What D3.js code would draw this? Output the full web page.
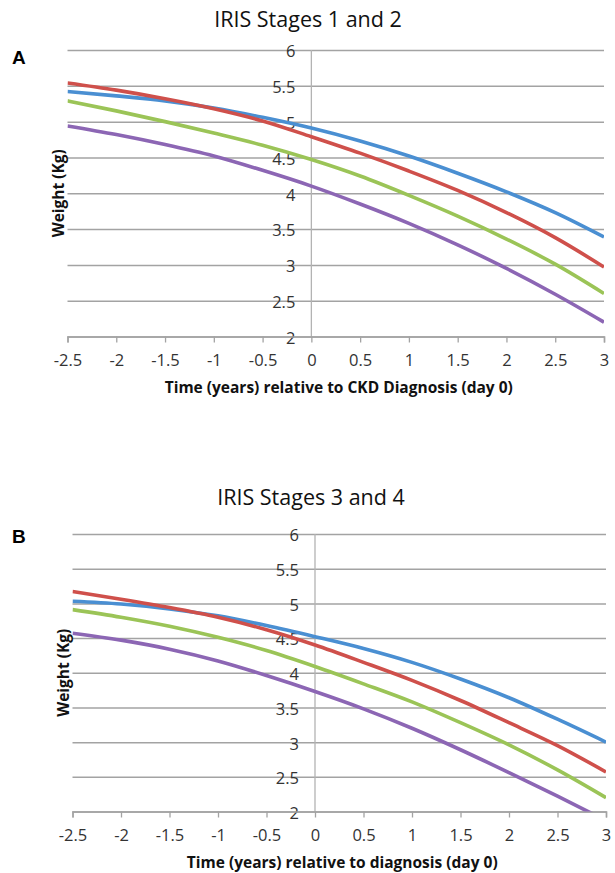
<!DOCTYPE html>
<html>
<head>
<meta charset="utf-8">
<script src="https://cdn.jsdelivr.net/npm/d3@7"></script>
<style>
  html, body { margin: 0; padding: 0; background: #fff; }
  svg { display: block; }
</style>
</head>
<body>
<svg id="chart" width="615" height="873"></svg>
<script>
// ---- data ----
const timeYears = [-2.5, -2, -1.5, -1, -0.5, 0, 0.5, 1, 1.5, 2, 2.5, 3];
const xTickValues = [-2.5, -2, -1.5, -1, -0.5, 0, 0.5, 1, 1.5, 2, 2.5, 3];
const xTickLabels = ["-2.5", "-2", "-1.5", "-1", "-0.5", "0", "0.5", "1", "1.5", "2", "2.5", "3"];
const yTickValues = [2, 2.5, 3, 3.5, 4, 4.5, 5, 5.5, 6];
const yTickLabels = ["2", "2.5", "3", "3.5", "4", "4.5", "5", "5.5", "6"];
const seriesColors = ["#4A8FD2", "#CF504B", "#9BC457", "#8C66B4"];

// Panel A: IRIS Stages 1 and 2
const stages12Blue   = [5.42, 5.36, 5.29, 5.19, 5.06, 4.91, 4.73, 4.52, 4.28, 4.02, 3.73, 3.39];
const stages12Red    = [5.54, 5.44, 5.32, 5.18, 5.01, 4.79, 4.56, 4.31, 4.04, 3.73, 3.38, 2.97];
const stages12Green  = [5.29, 5.15, 5.00, 4.84, 4.67, 4.47, 4.24, 3.97, 3.68, 3.36, 3.01, 2.60];
const stages12Purple = [4.94, 4.82, 4.68, 4.52, 4.32, 4.10, 3.85, 3.58, 3.28, 2.95, 2.59, 2.20];

// Panel B: IRIS Stages 3 and 4
const stages34Blue   = [5.03, 4.99, 4.92, 4.82, 4.68, 4.52, 4.35, 4.15, 3.91, 3.64, 3.33, 3.00];
const stages34Red    = [5.17, 5.06, 4.94, 4.80, 4.62, 4.40, 4.15, 3.89, 3.60, 3.28, 2.95, 2.57];
const stages34Green  = [4.91, 4.80, 4.67, 4.51, 4.32, 4.09, 3.84, 3.58, 3.28, 2.96, 2.60, 2.20];
const stages34Purple = [4.57, 4.47, 4.34, 4.17, 3.96, 3.73, 3.48, 3.20, 2.89, 2.56, 2.22, 1.87];

const titleA = "IRIS Stages 1 and 2";
const titleB = "IRIS Stages 3 and 4";
const xTitleA = "Time (years) relative to CKD Diagnosis (day 0)";
const xTitleB = "Time (years) relative to diagnosis (day 0)";
const yTitle = "Weight (Kg)";

// ---- drawing ----
const svg = d3.select("#chart");
const gridColor = "#a3a3a3";
const textColor = "#333333";
const numFont = "'Open Sans', sans-serif";

function drawPanel(cfg, idx) {
  const x = d3.scaleLinear().domain([-2.5, 3]).range([cfg.left, cfg.right]);
  const y = d3.scaleLinear().domain([2, 6]).range([cfg.bottom, cfg.top]);
  const g = svg.append("g");

  // title
  g.append("text")
    .attr("x", cfg.titleX).attr("y", cfg.titleY)
    .attr("text-anchor", "middle")
    .style("font-family", numFont).style("font-size", "21.5px")
    .style("fill", "#111")
    .text(cfg.title);

  // panel letter
  g.append("text")
    .attr("x", 12).attr("y", cfg.letterY)
    .style("font-family", "'Liberation Sans', Arial, sans-serif")
    .style("font-weight", "bold").style("font-size", "19px")
    .style("fill", "#000")
    .text(cfg.letter);

  // horizontal gridlines
  const yGrid = d3.axisLeft(y).tickValues(yTickValues)
    .tickSize(-(cfg.right - cfg.left)).tickFormat("");
  const gg = g.append("g").attr("transform", `translate(${cfg.left},0)`).call(yGrid);
  gg.select(".domain").remove();
  gg.selectAll(".tick line").attr("stroke", gridColor).attr("stroke-width", 1.5);

  // vertical axis line at x=0
  g.append("line")
    .attr("x1", x(0)).attr("x2", x(0))
    .attr("y1", y(6)).attr("y2", y(2))
    .attr("stroke", "#b3b3b3").attr("stroke-width", 1.3);

  // y tick labels
  const yAx = d3.axisLeft(y).tickValues(yTickValues).tickSize(0).tickPadding(16)
    .tickFormat((d, i) => yTickLabels[i]);
  const ya = g.append("g").attr("transform", `translate(${x(0)},0)`).call(yAx);
  ya.select(".domain").remove();
  ya.selectAll(".tick text")
    .attr("dy", "0.75em").attr("y", -5.5)
    .style("font-family", numFont).style("font-size", "16.5px").style("fill", textColor);

  // x axis with ticks
  const xAx = d3.axisBottom(x).tickValues(xTickValues).tickSize(6).tickPadding(12)
    .tickFormat((d, i) => xTickLabels[i]);
  const xa = g.append("g").attr("transform", `translate(0,${y(2)})`).call(xAx);
  xa.select(".domain").attr("stroke", gridColor).attr("stroke-width", 1.5);
  xa.selectAll(".tick line").attr("stroke", gridColor).attr("stroke-width", 1.3);
  xa.selectAll(".tick text")
    .style("font-family", numFont).style("font-size", "16.5px").style("fill", textColor);

  // clip
  const clipId = "clip" + idx;
  svg.append("clipPath").attr("id", clipId).append("rect")
    .attr("x", cfg.left).attr("y", cfg.top - 5)
    .attr("width", cfg.right - cfg.left).attr("height", cfg.bottom - cfg.top + 5);

  const line = d3.line()
    .x((d, i) => x(timeYears[i]))
    .y(d => y(d))
    .curve(d3.curveMonotoneX);

  const lg = g.append("g").attr("clip-path", `url(#${clipId})`);
  cfg.series.forEach((s, i) => {
    lg.append("path")
      .datum(s)
      .attr("d", line)
      .attr("fill", "none")
      .attr("stroke", seriesColors[i])
      .attr("stroke-width", 3.6)
      .attr("stroke-linecap", "butt");
  });

  // x title
  g.append("text")
    .attr("x", (cfg.left + cfg.right) / 2 + 3).attr("y", y(2) + 56)
    .attr("text-anchor", "middle")
    .style("font-family", numFont).style("font-weight", "bold").style("font-size", "15.5px")
    .style("fill", "#111")
    .text(cfg.xTitle);

  // y title
  const cy = (cfg.top + cfg.bottom) / 2;
  g.append("text")
    .attr("transform", `translate(${cfg.left - 4},${cy}) rotate(-90)`)
    .attr("text-anchor", "middle")
    .style("font-family", numFont).style("font-weight", "bold").style("font-size", "15.5px")
    .style("fill", "#111")
    .text(yTitle);
}

drawPanel({
  title: titleA, titleX: 308, titleY: 27, letter: "A", letterY: 64,
  left: 67.5, right: 604, top: 50, bottom: 336.5,
  xTitle: xTitleA,
  series: [stages12Blue, stages12Red, stages12Green, stages12Purple]
}, 0);

drawPanel({
  title: titleB, titleX: 311, titleY: 505, letter: "B", letterY: 543,
  left: 72.5, right: 606, top: 534, bottom: 811.5,
  xTitle: xTitleB,
  series: [stages34Blue, stages34Red, stages34Green, stages34Purple]
}, 1);
</script>
</body>
</html>
